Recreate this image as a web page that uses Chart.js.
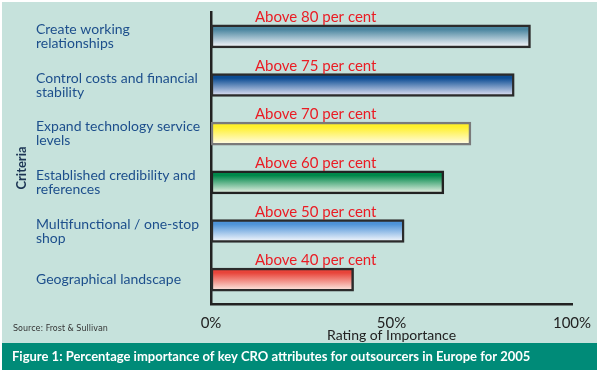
<!DOCTYPE html>
<html lang="en">
<head>
    <meta charset="utf-8" />
    <title>Key CRO attributes</title>
    <script src="https://cdn.jsdelivr.net/npm/chart.js"></script>
    <style>
        html, body { margin: 0; padding: 0; background: #ffffff; }
        #wrap { width: 600px; height: 374px; }
    </style>
</head>
<body>
    <div id="wrap"><canvas id="chart" width="600" height="374"></canvas></div>

    <script>
        // Data
        const criteria = [
            ['Create working', 'relationships'],
            ['Control costs and financial', 'stability'],
            ['Expand technology service', 'levels'],
            ['Established credibility and', 'references'],
            ['Multifunctional / one-stop', 'shop'],
            ['Geographical landscape']
        ];
        const rating = [88.5, 84, 72, 64.5, 53.5, 39.5];
        const aboveLabels = [80, 75, 70, 60, 50, 40];
        const xTicks = [0, 50, 100];

        // Styles for each bar (top colour, bottom colour, border)
        const gradTop = ['#4b86a0', '#0b4c93', '#fff02a', '#00884a', '#4e93d8', '#e8443a'];
        const gradBottom = ['#f6f7fb', '#dfe1f3', '#fffbe6', '#e6f0e4', '#f4f7fc', '#fde6de'];
        const borders = ['#2b2b2b', '#2b2b2b', '#7a7a7a', '#222222', '#2b2b2b', '#2b2b2b'];

        const BAR_H = 23;
        const LABEL_AT = 29;   // where the "Above ..." texts are centred, in % of the axis

        function barFill(ctx) {
            const chart = ctx.chart;
            const i = ctx.dataIndex;
            if (!chart.chartArea) return gradTop[i];
            const y = chart.scales.y.getPixelForValue(i);
            const g = chart.ctx.createLinearGradient(0, y - BAR_H / 2, 0, y + BAR_H / 2);
            g.addColorStop(0, gradTop[i]);
            g.addColorStop(0.2, gradTop[i]);
            g.addColorStop(0.95, gradBottom[i]);
            g.addColorStop(1, gradBottom[i]);
            return g;
        }

        // panel, caption, source note, axis title and "Above ..." texts
        const decor = {
            id: 'decor',
            beforeDraw(chart) {
                const c = chart.ctx;
                c.save();
                c.fillStyle = '#ffffff';
                c.fillRect(0, 0, chart.width, chart.height);
                c.fillStyle = '#c6e2dc';
                c.fillRect(2, 2, 595, 341);
                c.fillStyle = '#008b78';
                c.fillRect(2, 343, 595, 27);
                c.restore();
            },
            afterDraw(chart) {
                const c = chart.ctx;
                c.save();
                // Criteria
                c.translate(22, 168);
                c.rotate(-Math.PI / 2);
                c.fillStyle = '#1c3554';
                c.font = 'bold 13px Lato';
                c.textAlign = 'center';
                c.textBaseline = 'middle';
                c.fillText('Criteria', 0, 0);
                c.restore();

                c.save();
                c.fillStyle = '#333333';
                c.font = '8px "DejaVu Sans"';
                c.textBaseline = 'middle';
                c.fillText('Source: Frost & Sullivan', 13, 329);

                c.fillStyle = '#ffffff';
                c.font = 'bold 13px Lato';
                c.fillText('Figure 1: Percentage importance of key CRO attributes for outsourcers in Europe for 2005', 12, 357);
                c.restore();
            },
            afterDatasetsDraw(chart) {
                const c = chart.ctx;
                const x = chart.scales.x.getPixelForValue(LABEL_AT);
                c.save();
                c.fillStyle = '#ea1c24';
                c.font = '15px Lato';
                c.textAlign = 'center';
                c.textBaseline = 'alphabetic';
                chart.getDatasetMeta(0).data.forEach((bar, i) => {
                    const top = bar.y - bar.height / 2;
                    c.fillText('Above ' + aboveLabels[i] + ' per cent', x, top - 3);
                });
                c.restore();
            }
        };

        new Chart(document.getElementById('chart'), {
            type: 'bar',
            data: {
                labels: criteria,
                datasets: [{
                    data: rating,
                    backgroundColor: barFill,
                    borderColor: borders,
                    borderWidth: 2.5,
                    borderSkipped: false,
                    barThickness: BAR_H
                }]
            },
            options: {
                indexAxis: 'y',
                responsive: false,
                animation: false,
                layout: { padding: { top: 12, left: 36, right: 28, bottom: 30 } },
                plugins: {
                    legend: { display: false },
                    tooltip: { enabled: false }
                },
                scales: {
                    x: {
                        min: 0,
                        max: 100,
                        afterBuildTicks: s => { s.ticks = xTicks.map(v => ({ value: v })); },
                        grid: { display: false },
                        border: { display: true, color: '#222222', width: 2.5 },
                        ticks: {
                            color: '#222222',
                            font: { family: 'Lato', size: 15 },
                            padding: 2,
                            callback: v => v + '%'
                        },
                        title: {
                            display: true,
                            text: 'Rating of Importance',
                            color: '#222222',
                            font: { family: 'Lato', size: 14 },
                            padding: { top: 0, bottom: 0 }
                        },
                        afterFit: s => { s.height = 40; }
                    },
                    y: {
                        grid: { display: false },
                        border: { display: true, color: '#222222', width: 2.5 },
                        ticks: {
                            color: '#1d4f8c',
                            crossAlign: 'far',
                            font: { family: 'Lato', size: 14, lineHeight: 1.0 }
                        },
                        afterFit: s => { s.width = 175; }
                    }
                }
            },
            plugins: [decor]
        });
    </script>
</body>
</html>
